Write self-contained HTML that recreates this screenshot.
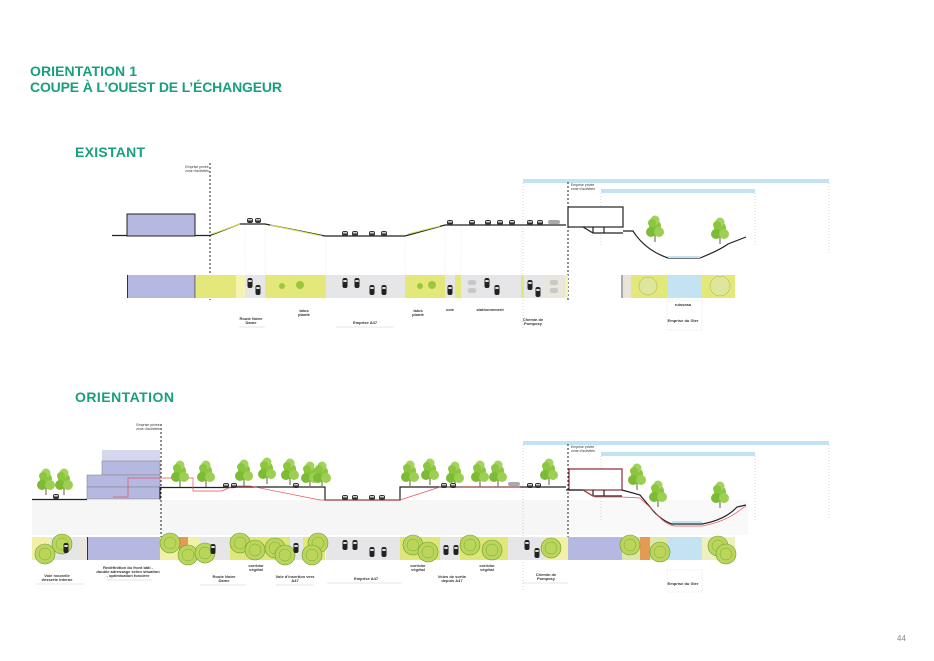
<!DOCTYPE html>
<html><head><meta charset="utf-8"><style>
html,body{margin:0;padding:0;background:#fff;}
svg{display:block;font-family:"Liberation Sans",sans-serif;}
.h{fill:#17a07e;font-weight:bold;font-family:"Liberation Sans",sans-serif;}
.l{font-size:4px;fill:#333;text-anchor:middle;font-weight:bold;}
</style></head><body>
<svg width="934" height="661" viewBox="0 0 934 661" xmlns="http://www.w3.org/2000/svg">
<defs>
<g id="car"><rect x="-3" y="-3" width="6" height="5" rx="2" fill="#333"/><rect x="-2" y="-2" width="4" height="1.5" fill="#ccc"/></g>
<g id="pc"><rect x="-2.5" y="-5" width="5" height="10" rx="2" fill="#222"/><rect x="-1.7" y="-3" width="3.4" height="2" fill="#ddd"/></g>
<g id="tree"><rect x="-0.6" y="0" width="1.2" height="12" fill="#7a7a5a"/><circle cx="0" cy="-4" r="6" fill="#8cc63f"/><circle cx="-4" cy="2" r="5" fill="#7dbb35"/><circle cx="4" cy="2" r="5" fill="#9ccf52"/><circle cx="0" cy="-10" r="4.5" fill="#a3d35d"/><circle cx="-3" cy="-7" r="4" fill="#8cc63f"/></g>
<g id="ptree"><circle r="10" fill="#b9d65b" stroke="#6a9a2a" stroke-width="0.6"/><circle r="6" fill="none" stroke="#6a9a2a" stroke-width="0.4"/></g>
</defs>

<text x="30" y="76" class="h" font-size="14" textLength="107">ORIENTATION 1</text>
<text x="30" y="92" class="h" font-size="14" textLength="252">COUPE À L’OUEST DE L’ÉCHANGEUR</text>
<text x="75" y="157" class="h" font-size="14" textLength="70">EXISTANT</text>
<text x="75" y="402" class="h" font-size="14" textLength="99">ORIENTATION</text>
<text x="897" y="641" font-size="8" fill="#888">44</text>

<!-- ===== EXISTANT ===== -->
<text x="197" y="168" font-size="3.5" fill="#333" text-anchor="middle">Emprise privée</text>
<text x="197" y="172" font-size="3.5" fill="#333" text-anchor="middle">zone d'activités</text>
<line x1="210" y1="163" x2="210" y2="300" stroke="#222" stroke-width="1" stroke-dasharray="2,2"/>
<rect x="523" y="179" width="306" height="4" fill="#c3e3f3"/>
<rect x="601" y="189" width="154" height="4" fill="#c3e3f3"/>
<line x1="523" y1="183" x2="523" y2="330" stroke="#aaa" stroke-width="0.5" stroke-dasharray="1,2"/>
<line x1="829" y1="183" x2="829" y2="255" stroke="#aaa" stroke-width="0.5" stroke-dasharray="1,2"/>
<line x1="755" y1="193" x2="755" y2="245" stroke="#aaa" stroke-width="0.5" stroke-dasharray="1,2"/>
<line x1="601" y1="193" x2="601" y2="245" stroke="#aaa" stroke-width="0.5" stroke-dasharray="1,2"/>
<line x1="568" y1="182" x2="568" y2="300" stroke="#222" stroke-width="1" stroke-dasharray="2,2"/>
<text x="571" y="186" font-size="3.5" fill="#333">Emprise privée</text>
<text x="571" y="190" font-size="3.5" fill="#333">zone d'activités</text>

<rect x="127" y="214" width="68" height="22" fill="#b5b8e0" stroke="#222" stroke-width="1"/>
<path d="M112 235.5 H127 M195 235.5 H210 L240 224 H265 L325 236 H405 L445 225 H566" fill="none" stroke="#222" stroke-width="1.2"/>
<path d="M212 234 L240 224 M270 225 L322 236 M408 234 L440 226" stroke="#d9e14a" stroke-width="1" fill="none"/>
<rect x="568" y="207" width="55" height="20" fill="#fff" stroke="#222" stroke-width="1.2"/>
<path d="M583 227 L593 233 H623 M593 227 V233 M604 227 V233 M623 231 H633 Q645 250 668 258 H700 Q720 250 728 244 L746 237" fill="none" stroke="#222" stroke-width="1.2"/>
<rect x="668" y="256" width="32" height="2" fill="#c3e3f3"/>
<use href="#tree" x="655" y="230"/><use href="#tree" x="720" y="232"/>
<use href="#car" x="250" y="221"/><use href="#car" x="258" y="221"/>
<use href="#car" x="345" y="234"/><use href="#car" x="355" y="234"/><use href="#car" x="372" y="234"/><use href="#car" x="384" y="234"/>
<use href="#car" x="450" y="223"/><use href="#car" x="472" y="223"/><use href="#car" x="488" y="223"/><use href="#car" x="500" y="223"/><use href="#car" x="512" y="223"/>
<use href="#car" x="530" y="223"/><use href="#car" x="540" y="223"/>
<rect x="548" y="220" width="12" height="4" rx="2" fill="#aaa"/>

<g>
<rect x="127" y="275" width="68" height="23" fill="#b5b8e0"/><line x1="127.5" y1="275" x2="127.5" y2="298" stroke="#333"/>
<line x1="195" y1="275" x2="195" y2="298" stroke="#555"/>
<rect x="196" y="275" width="40" height="23" fill="#e4e87a"/>
<rect x="236" y="275" width="9" height="23" fill="#f4f3b0"/>
<rect x="245" y="275" width="20" height="23" fill="#e6e6e8"/>
<rect x="265" y="275" width="61" height="23" fill="#e4e87a"/>
<rect x="326" y="275" width="79" height="23" fill="#e6e6e8"/>
<rect x="405" y="275" width="40" height="23" fill="#e4e87a"/>
<rect x="445" y="275" width="10" height="23" fill="#e6e6e8"/>
<rect x="455" y="275" width="6" height="23" fill="#e4e87a"/>
<rect x="461" y="275" width="60" height="23" fill="#e6e6e8"/>
<rect x="521" y="275" width="3" height="23" fill="#e4e87a"/>
<rect x="524" y="275" width="21" height="23" fill="#e6e6e8"/>
<rect x="545" y="275" width="20" height="23" fill="#eae6dc"/>
<rect x="565" y="275" width="3" height="23" fill="#f4f3b0"/>
<line x1="622" y1="275" x2="622" y2="298" stroke="#555"/>
<rect x="623" y="275" width="8" height="23" fill="#e9e4d8"/>
<rect x="631" y="275" width="36" height="23" fill="#e4e87a"/>
<rect x="667" y="275" width="35" height="23" fill="#c3e3f3"/>
<rect x="702" y="275" width="33" height="23" fill="#e4e87a"/>
<circle cx="648" cy="286" r="9" fill="#dde69a" stroke="#9aba3a" stroke-width="0.5"/>
<circle cx="720" cy="286" r="10" fill="#dde69a" stroke="#9aba3a" stroke-width="0.5"/>
<use href="#pc" x="250" y="283"/><use href="#pc" x="258" y="290"/>
<use href="#pc" x="345" y="283"/><use href="#pc" x="357" y="283"/><use href="#pc" x="372" y="290"/><use href="#pc" x="384" y="290"/>
<use href="#pc" x="450" y="290"/><use href="#pc" x="487" y="283"/><use href="#pc" x="497" y="290"/><use href="#pc" x="530" y="285"/><use href="#pc" x="538" y="292"/>
<circle cx="282" cy="286" r="3" fill="#9bc83a"/><circle cx="300" cy="285" r="4" fill="#9bc83a"/><circle cx="420" cy="286" r="3" fill="#9bc83a"/><circle cx="432" cy="285" r="4" fill="#9bc83a"/>
<rect x="468" y="280" width="8" height="5" rx="2" fill="#c8c8c8"/><rect x="468" y="288" width="8" height="5" rx="2" fill="#c8c8c8"/>
<rect x="550" y="280" width="8" height="5" rx="2" fill="#c8c8c8"/><rect x="550" y="288" width="8" height="5" rx="2" fill="#c8c8c8"/>
</g>
<g stroke="#ccc" stroke-width="0.4" stroke-dasharray="1,1.5">
<line x1="245" y1="225" x2="245" y2="275"/><line x1="265" y1="225" x2="265" y2="275"/><line x1="326" y1="238" x2="326" y2="275"/><line x1="405" y1="238" x2="405" y2="275"/><line x1="445" y1="226" x2="445" y2="275"/><line x1="461" y1="226" x2="461" y2="275"/><line x1="521" y1="226" x2="521" y2="275"/>
</g>
<text x="304" y="312" class="l">talus</text><text x="304" y="316" class="l">planté</text>
<text x="251" y="320" class="l">Route Notre</text><text x="251" y="324" class="l">Dame</text>
<line x1="239" y1="327" x2="265" y2="327" stroke="#ccc" stroke-width="0.6"/>
<text x="365" y="324" class="l">Emprise A47</text><line x1="336" y1="327" x2="394" y2="327" stroke="#ccc" stroke-width="0.6"/>
<text x="418" y="312" class="l">talus</text><text x="418" y="316" class="l">planté</text>
<text x="450" y="311" class="l" font-size="2.5">voie</text>
<text x="490" y="311" class="l" font-size="2.5">stationnement</text>
<text x="533" y="321" class="l">Chemin de</text><text x="533" y="325" class="l">Pomposy</text>
<text x="683" y="306" class="l" font-size="3">ruisseau</text>
<text x="683" y="322" class="l">Emprise du  Gier</text>
<rect x="667" y="300" width="35" height="30" fill="none" stroke="#ccc" stroke-width="0.5" stroke-dasharray="1,1.5"/>

<!-- ===== ORIENTATION ===== -->
<text x="148" y="426" font-size="3.5" fill="#333" text-anchor="middle">Emprise privée</text>
<text x="148" y="430" font-size="3.5" fill="#333" text-anchor="middle">zone d'activités</text>
<rect x="32" y="500" width="536" height="35" fill="#f6f6f6"/>
<rect x="568" y="500" width="180" height="35" fill="#f9f9f9"/>
<rect x="523" y="441" width="306" height="4" fill="#c3e3f3"/>
<rect x="601" y="452" width="154" height="4" fill="#c3e3f3"/>
<line x1="523" y1="445" x2="523" y2="590" stroke="#aaa" stroke-width="0.5" stroke-dasharray="1,2"/>
<line x1="829" y1="445" x2="829" y2="520" stroke="#aaa" stroke-width="0.5" stroke-dasharray="1,2"/>
<line x1="755" y1="456" x2="755" y2="520" stroke="#aaa" stroke-width="0.5" stroke-dasharray="1,2"/>
<line x1="601" y1="456" x2="601" y2="520" stroke="#aaa" stroke-width="0.5" stroke-dasharray="1,2"/>
<line x1="568" y1="444" x2="568" y2="560" stroke="#222" stroke-width="1" stroke-dasharray="2,2"/>
<line x1="161" y1="424" x2="161" y2="537" stroke="#222" stroke-width="1" stroke-dasharray="2,2"/>
<text x="571" y="448" font-size="3.5" fill="#333">Emprise privée</text>
<text x="571" y="452" font-size="3.5" fill="#333">zone d'activités</text>

<rect x="102" y="450" width="58" height="11" fill="#d5d7ee"/>
<rect x="102" y="461" width="58" height="14" fill="#b5b8e0" stroke="#888" stroke-width="0.6"/>
<rect x="87" y="475" width="73" height="12" fill="#b5b8e0" stroke="#888" stroke-width="0.6"/>
<rect x="87" y="487" width="73" height="12" fill="#b5b8e0" stroke="#888" stroke-width="0.6"/>
<use href="#tree" x="46" y="483"/><use href="#tree" x="64" y="483"/>
<use href="#car" x="56" y="497"/>
<path d="M32 499.5 H87 M160 499.5 V487.5 H233 L236 487 H325 V500 H400 V487 H566" fill="none" stroke="#222" stroke-width="1.2"/>
<path d="M113 497 H128 V478 H193 V491 H222 L233 486 H250 L320 500 H400 L440 487 H520" fill="none" stroke="#e8505b" stroke-width="0.7"/>
<use href="#tree" x="180" y="475"/><use href="#tree" x="206" y="475"/><use href="#tree" x="244" y="474"/><use href="#tree" x="267" y="472"/><use href="#tree" x="290" y="473"/><use href="#tree" x="310" y="476"/><use href="#tree" x="322" y="476"/>
<use href="#tree" x="410" y="475"/><use href="#tree" x="430" y="473"/><use href="#tree" x="455" y="476"/><use href="#tree" x="480" y="475"/><use href="#tree" x="498" y="475"/><use href="#tree" x="549" y="473"/>
<use href="#car" x="226" y="486"/><use href="#car" x="234" y="486"/><use href="#car" x="296" y="486"/>
<use href="#car" x="345" y="498"/><use href="#car" x="355" y="498"/><use href="#car" x="372" y="498"/><use href="#car" x="382" y="498"/>
<use href="#car" x="444" y="486"/><use href="#car" x="453" y="486"/><use href="#car" x="530" y="486"/><use href="#car" x="538" y="486"/>
<rect x="508" y="482" width="12" height="4" rx="2" fill="#aaa"/>
<rect x="569" y="469" width="53" height="21" fill="#fff" stroke="#8b2a35" stroke-width="1.2"/>
<path d="M566 490 H583 L593 496 H622 M593 490 V496 M604 490 V496 M622 490 L640 495 L650 507 Q660 520 672 524 H702 Q725 520 737 507 L746 505" fill="none" stroke="#222" stroke-width="1.2"/>
<path d="M583 490 L595 497 H622 L640 498 L655 512 Q665 525 675 526 H702 Q725 522 740 510 L746 506" fill="none" stroke="#e8505b" stroke-width="0.7"/>
<rect x="672" y="521" width="30" height="2" fill="#c3e3f3"/>
<use href="#tree" x="637" y="478"/><use href="#tree" x="658" y="495"/><use href="#tree" x="720" y="496"/>

<g>
<rect x="32" y="537" width="18" height="23" fill="#f2f0a6"/>
<rect x="50" y="537" width="30" height="23" fill="#e6e6e8"/>
<rect x="80" y="537" width="7" height="23" fill="#ebe6dc"/>
<rect x="87" y="537" width="73" height="23" fill="#b5b8e0"/><line x1="87.5" y1="537" x2="87.5" y2="560" stroke="#333"/>
<rect x="160" y="537" width="19" height="23" fill="#f2f0a6"/>
<rect x="179" y="537" width="9" height="23" fill="#e39a55"/>
<rect x="188" y="537" width="12" height="23" fill="#f2f0a6"/>
<rect x="200" y="537" width="30" height="23" fill="#e6e6e8"/>
<rect x="230" y="537" width="60" height="23" fill="#dfe67a"/>
<rect x="290" y="537" width="13" height="23" fill="#e6e6e8"/>
<rect x="303" y="537" width="22" height="23" fill="#e4e87a"/>
<rect x="326" y="537" width="74" height="23" fill="#e6e6e8"/>
<rect x="400" y="537" width="40" height="23" fill="#dfe67a"/>
<rect x="440" y="537" width="20" height="23" fill="#e6e6e8"/>
<rect x="460" y="537" width="48" height="23" fill="#dfe67a"/>
<rect x="508" y="537" width="37" height="23" fill="#e6e6e8"/>
<rect x="545" y="537" width="23" height="23" fill="#f2f0a6"/>
<rect x="568" y="537" width="54" height="23" fill="#b5b8e0"/>
<rect x="622" y="537" width="18" height="23" fill="#dde8a8"/>
<rect x="640" y="537" width="10" height="23" fill="#e39a55"/>
<rect x="650" y="537" width="18" height="23" fill="#dde8a8"/>
<rect x="668" y="537" width="34" height="23" fill="#c3e3f3"/>
<rect x="702" y="537" width="33" height="23" fill="#eef0c0"/>
<use href="#ptree" x="62" y="544"/><use href="#ptree" x="45" y="554"/>
<use href="#ptree" x="170" y="543"/><use href="#ptree" x="188" y="555"/><use href="#ptree" x="205" y="553"/>
<use href="#ptree" x="240" y="543"/><use href="#ptree" x="255" y="550"/><use href="#ptree" x="275" y="548"/><use href="#ptree" x="285" y="555"/><use href="#ptree" x="318" y="543"/><use href="#ptree" x="312" y="555"/>
<use href="#ptree" x="413" y="545"/><use href="#ptree" x="428" y="552"/><use href="#ptree" x="470" y="545"/><use href="#ptree" x="492" y="550"/>
<use href="#ptree" x="551" y="548"/><use href="#ptree" x="630" y="545"/><use href="#ptree" x="660" y="552"/><use href="#ptree" x="718" y="546"/><use href="#ptree" x="726" y="554"/>
<use href="#pc" x="66" y="548"/><use href="#pc" x="213" y="549"/><use href="#pc" x="296" y="548"/>
<use href="#pc" x="345" y="545"/><use href="#pc" x="355" y="545"/><use href="#pc" x="372" y="552"/><use href="#pc" x="384" y="552"/>
<use href="#pc" x="446" y="550"/><use href="#pc" x="456" y="550"/><use href="#pc" x="527" y="545"/><use href="#pc" x="537" y="553"/>
</g>
<text x="57" y="577" class="l">Voie nouvelle</text><text x="57" y="581" class="l">desserte interne</text><line x1="36" y1="584" x2="84" y2="584" stroke="#ccc" stroke-width="0.6"/>
<text x="128" y="569" class="l">Redéfinition du front bâti -</text><text x="128" y="573" class="l">double adressage selon situation</text><text x="128" y="577" class="l">- optimisation foncière</text><line x1="107" y1="580" x2="152" y2="580" stroke="#ccc" stroke-width="0.6"/>
<text x="224" y="578" class="l">Route Notre</text><text x="224" y="582" class="l">Dame</text><line x1="200" y1="585" x2="246" y2="585" stroke="#ccc" stroke-width="0.6"/>
<text x="256" y="567" class="l">corridor</text><text x="256" y="571" class="l">végétal</text>
<text x="295" y="578" class="l">Voie d'insertion vers</text><text x="295" y="582" class="l">A47</text><line x1="276" y1="585" x2="314" y2="585" stroke="#ccc" stroke-width="0.6"/>
<text x="366" y="580" class="l">Emprise A47</text><line x1="327" y1="583" x2="402" y2="583" stroke="#ccc" stroke-width="0.6"/>
<text x="418" y="567" class="l">corridor</text><text x="418" y="571" class="l">végétal</text>
<text x="452" y="578" class="l">Voies de sortie</text><text x="452" y="582" class="l">depuis A47</text>
<text x="487" y="567" class="l">corridor</text><text x="487" y="571" class="l">végétal</text>
<text x="546" y="576" class="l">Chemin de</text><text x="546" y="580" class="l">Pomposy</text><line x1="523" y1="583" x2="568" y2="583" stroke="#ccc" stroke-width="0.6"/>
<text x="683" y="585" class="l">Emprise du  Gier</text>
<rect x="667" y="570" width="35" height="22" fill="none" stroke="#ccc" stroke-width="0.5" stroke-dasharray="1,1.5"/>
</svg>
</body></html>
